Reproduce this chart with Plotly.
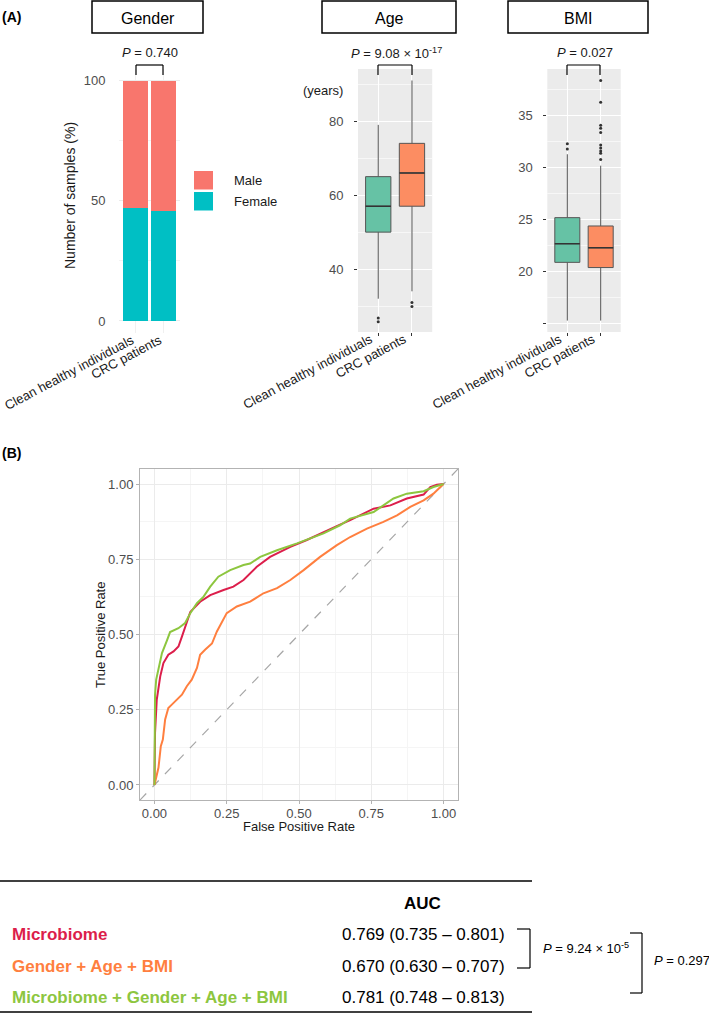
import plotly.graph_objects as go

W, H = 709, 1013
FONT = "Liberation Sans, Arial, sans-serif"

groups = ["Clean healthy individuals", "CRC patients"]
female_pct = [47.1, 45.7]
male_pct = [52.9, 54.3]

# age box stats (years)
age_q1 = [50, 57]
age_med = [57, 66]
age_q3 = [65, 74]
age_lo = [32, 34]
age_hi = [79, 91]
age_out_x = [0, 0, 1, 1]
age_out_y = [26.8, 25.8, 31.0, 29.9]

# bmi box stats
bmi_q1 = [20.9, 20.4]
bmi_med = [22.7, 22.3]
bmi_q3 = [25.2, 24.4]
bmi_lo = [15.3, 15.3]
bmi_hi = [31.3, 30.2]
bmi_out_x = [0, 0, 1, 1, 1, 1, 1, 1, 1, 1, 1, 1]
bmi_out_y = [32.3, 31.8, 38.4, 36.3, 34.1, 33.8, 33.4, 32.2, 31.9, 31.6, 31.4, 30.8]

p_gender = "<i>P</i> = 0.740"
p_age = "<i>P</i> = 9.08 × 10<sup>-17</sup>"
p_bmi = "<i>P</i> = 0.027"

# ROC curves
fpr_micro = [0, 0.0, 0.002, 0.008, 0.02, 0.031, 0.048, 0.066, 0.083, 0.095, 0.112, 0.124, 0.158,
             0.193, 0.239, 0.273, 0.308, 0.354, 0.4, 0.47, 0.527, 0.585, 0.642, 0.677, 0.758,
             0.816, 0.873, 0.931, 0.954, 0.977, 1.0]
tpr_micro = [0, 0.10, 0.173, 0.284, 0.361, 0.405, 0.433, 0.444, 0.46, 0.493, 0.538, 0.575, 0.609,
             0.631, 0.648, 0.659, 0.681, 0.725, 0.758, 0.791, 0.814, 0.841, 0.865, 0.88, 0.918,
             0.929, 0.952, 0.965, 0.99, 0.998, 1.0]
fpr_clin = [0, 0.002, 0.014, 0.022, 0.029, 0.037, 0.048, 0.06, 0.077, 0.095, 0.112, 0.129, 0.147,
            0.158, 0.175, 0.199, 0.216, 0.25, 0.285, 0.331, 0.377, 0.424, 0.47, 0.516, 0.573,
            0.631, 0.677, 0.735, 0.792, 0.839, 0.885, 0.931, 0.965, 0.989, 1.0]
tpr_clin = [0, 0.008, 0.058, 0.129, 0.151, 0.218, 0.256, 0.267, 0.284, 0.300, 0.328, 0.35, 0.389,
            0.433, 0.449, 0.47, 0.51, 0.571, 0.593, 0.609, 0.637, 0.654, 0.681, 0.714, 0.758,
            0.797, 0.824, 0.852, 0.874, 0.896, 0.924, 0.946, 0.968, 0.99, 1.0]
fpr_all = [0, 0.0, 0.002, 0.006, 0.014, 0.026, 0.043, 0.054, 0.083, 0.106, 0.124, 0.147, 0.170,
           0.193, 0.221, 0.262, 0.308, 0.331, 0.366, 0.424, 0.493, 0.585, 0.642, 0.677, 0.758,
           0.827, 0.873, 0.931, 0.965, 1.0]
tpr_all = [0, 0.20, 0.30, 0.35, 0.383, 0.438, 0.48, 0.508, 0.521, 0.538, 0.571, 0.604, 0.626,
           0.659, 0.692, 0.714, 0.731, 0.736, 0.758, 0.780, 0.803, 0.836, 0.863, 0.885, 0.907,
           0.952, 0.968, 0.976, 0.99, 1.0]

models = ["Microbiome", "Gender + Age + BMI", "Microbiome + Gender + Age + BMI"]
auc = ["0.769", "0.670", "0.781"]
ci_lo = ["0.735", "0.630", "0.748"]
ci_hi = ["0.801", "0.707", "0.813"]
model_colors = ["#DC1E4B", "#FF7F3F", "#8DC63F"]
p_tbl_1 = "<i>P</i> = 9.24 × 10<sup>-5</sup>"
p_tbl_2 = "<i>P</i> = 0.297"

c_male, c_female = "#F8766D", "#00BFC4"
c_h, c_c = "#66C2A5", "#FC8D62"


def px(x):
    return x / W


def py(y):
    return 1 - y / H


fig = go.Figure()

# ---- gender bars
fig.add_trace(go.Bar(x=[0, 1], y=female_pct, width=0.9, marker=dict(color=c_female, line_width=0),
                     xaxis="x", yaxis="y", showlegend=False))
fig.add_trace(go.Bar(x=[0, 1], y=male_pct, width=0.9, marker=dict(color=c_male, line_width=0),
                     xaxis="x", yaxis="y", showlegend=False))

# ---- age / bmi boxes
def add_boxes(q1, med, q3, lo, hi, ox, oy, xa, ya):
    for i, col in enumerate([c_h, c_c]):
        fig.add_trace(go.Box(x=[i], q1=[q1[i]], median=[med[i]], q3=[q3[i]],
                             lowerfence=[lo[i]], upperfence=[hi[i]], width=0.75,
                             fillcolor=col, line=dict(color="#555555", width=1),
                             whiskerwidth=0, boxpoints=False, xaxis=xa, yaxis=ya,
                             showlegend=False))
        # darker median bar like ggplot
        fig.add_trace(go.Scatter(x=[i - 0.375, i + 0.375], y=[med[i], med[i]], mode="lines",
                                 line=dict(color="#333333", width=1.5), xaxis=xa, yaxis=ya,
                                 showlegend=False, hoverinfo="skip"))
    fig.add_trace(go.Scatter(x=ox, y=oy, mode="markers", marker=dict(size=3, color="#333333"),
                             xaxis=xa, yaxis=ya, showlegend=False))


add_boxes(age_q1, age_med, age_q3, age_lo, age_hi, age_out_x, age_out_y, "x2", "y2")
add_boxes(bmi_q1, bmi_med, bmi_q3, bmi_lo, bmi_hi, bmi_out_x, bmi_out_y, "x3", "y3")

# ---- ROC
roc_rng = [-0.05, 1.05]
fig.add_trace(go.Scatter(x=roc_rng, y=roc_rng, mode="lines",
                         line=dict(color="#A6A6A6", width=1.2, dash="dash"),
                         xaxis="x4", yaxis="y4", showlegend=False))
for f, t, c in [(fpr_micro, tpr_micro, model_colors[0]), (fpr_clin, tpr_clin, model_colors[1]),
                (fpr_all, tpr_all, model_colors[2])]:
    fig.add_trace(go.Scatter(x=f, y=t, mode="lines", line=dict(color=c, width=2),
                             xaxis="x4", yaxis="y4", showlegend=False))

tickfont = dict(family=FONT, size=13, color="#4D4D4D")
xcat = dict(tickvals=[0, 1], ticktext=groups, range=[-0.6, 1.6], tickangle=-28,
            tickfont=dict(family=FONT, size=13, color="#1A1A1A"), ticks="outside",
            ticklen=3, zeroline=False, automargin=False, ticklabeloverflow="allow",
            ticklabelstandoff=-9)

fig.update_layout(
    width=W, height=H, margin=dict(l=0, r=0, t=0, b=0, autoexpand=False),
    paper_bgcolor="white", plot_bgcolor="white", barmode="stack", bargap=0,
    font=dict(family=FONT),
    xaxis=dict(domain=[px(119), px(180)], anchor="y", showgrid=True, gridcolor="#F0F0F0",
               tickcolor="rgba(0,0,0,0)", ticklabelshift=-4, **xcat),
    yaxis=dict(domain=[py(333), py(68.7)], anchor="x", range=[-5, 105], tickvals=[0, 50, 100],
               showgrid=True, gridcolor="#EBEBEB", zeroline=False, ticks="outside", ticklen=10,
               tickcolor="rgba(0,0,0,0)", tickfont=tickfont, automargin=False,
               minor=dict(tickvals=[25, 75], showgrid=True, gridcolor="#F3F3F3")),
    xaxis2=dict(domain=[px(358), px(432.2)], anchor="y2", showgrid=True, gridcolor="white",
                tickcolor="#333333", ticklabelshift=-8, **xcat),
    yaxis2=dict(domain=[py(332), py(69)], anchor="x2", range=[23, 94.1], tickvals=[40, 60, 80],
                showgrid=True, gridcolor="white", zeroline=False, ticks="outside", ticklen=3,
                tickcolor="#333333", tickfont=tickfont, ticklabelstandoff=8, automargin=False,
                minor=dict(tickvals=[30, 50, 70, 90], showgrid=True, gridcolor="#F7F7F7")),
    xaxis3=dict(domain=[px(547.3), px(620.7)], anchor="y3", showgrid=True, gridcolor="white",
                tickcolor="#333333", ticklabelshift=-8, **xcat),
    yaxis3=dict(domain=[py(332), py(69)], anchor="x3", range=[14.2, 39.5],
                tickvals=[15, 20, 25, 30, 35], ticktext=["", "20", "25", "30", "35"],
                showgrid=True, gridcolor="white", zeroline=False, ticks="outside", ticklen=3,
                tickcolor="#333333", tickfont=tickfont, ticklabelstandoff=8, automargin=False,
                minor=dict(tickvals=[17.5, 22.5, 27.5, 32.5, 37.5], showgrid=True,
                           gridcolor="#F7F7F7")),
    xaxis4=dict(domain=[px(140), px(458)], anchor="y4", range=roc_rng,
                tickvals=[0, 0.25, 0.5, 0.75, 1], tickformat=".2f", showgrid=True,
                gridcolor="#EBEBEB", zeroline=False, showline=True, mirror=True,
                linecolor="#B3B3B3", linewidth=1, ticks="outside", ticklen=3,
                tickcolor="#B3B3B3", tickfont=tickfont, automargin=False,
                ticklabelstandoff=-2,
                minor=dict(dtick=0.125, showgrid=True, gridcolor="#F5F5F5")),
    yaxis4=dict(domain=[py(800), py(469)], anchor="x4", range=roc_rng,
                tickvals=[0, 0.25, 0.5, 0.75, 1], tickformat=".2f", showgrid=True,
                gridcolor="#EBEBEB", zeroline=False, showline=True, mirror=True,
                linecolor="#B3B3B3", linewidth=1, ticks="outside", ticklen=3,
                tickcolor="#B3B3B3", tickfont=tickfont, automargin=False,
                minor=dict(dtick=0.125, showgrid=True, gridcolor="#F5F5F5")),
)

# grey panels for age and bmi
for x0, x1 in [(358, 432.2), (547.3, 620.7)]:
    fig.add_shape(type="rect", xref="paper", yref="paper", x0=px(x0), x1=px(x1),
                  y0=py(332), y1=py(69), fillcolor="#EBEBEB", line_width=0, layer="below")

shapes = []
ann = []


def text(x, y, s, size=13, color="#1A1A1A", xa="center", ya="middle", angle=0):
    ann.append(dict(x=px(x), y=py(y), xref="paper", yref="paper", text=s, showarrow=False,
                    xanchor=xa, yanchor=ya, textangle=angle,
                    font=dict(family=FONT, size=size, color=color)))


def line(x0, y0, x1, y1, w=1.2, color="black"):
    shapes.append(dict(type="line", xref="paper", yref="paper", x0=px(x0), y0=py(y0),
                       x1=px(x1), y1=py(y1), line=dict(color=color, width=w)))


def bracket_down(x0, x1, top, bot):
    line(x0, bot, x0, top)
    line(x0, top, x1, top)
    line(x1, top, x1, bot)


def bracket_right(x, top, bot, arm):
    line(x - arm, top, x, top)
    line(x, top, x, bot)
    line(x - arm, bot, x, bot)


# facet title boxes
for (x0, x1), lab in zip([(92, 203), (322, 456), (508, 648)], ["Gender", "Age", "BMI"]):
    shapes.append(dict(type="rect", xref="paper", yref="paper", x0=px(x0), x1=px(x1),
                       y0=py(33), y1=py(1), line=dict(color="black", width=1.5)))
    text((x0 + x1) / 2, 18, lab, size=16, color="black")

text(0, 17, "<b>(A)</b>", size=14, color="black", xa="left")
text(0, 453, "<b>(B)</b>", size=14, color="black", xa="left")

# p-value brackets
text(150, 53, p_gender)
bracket_down(136, 163, 65, 75)
text(396, 53, p_age)
bracket_down(378, 412, 65, 75)
text(584.5, 53, p_bmi)
bracket_down(567, 600, 65, 75)

text(70, 196, "Number of samples (%)", size=14, angle=-90)
text(323, 90, "(years)", size=13)

# gender legend
for y0, col, lab in [(171, c_male, "Male"), (192, c_female, "Female")]:
    shapes.append(dict(type="rect", xref="paper", yref="paper", x0=px(194), x1=px(213),
                       y0=py(y0 + 18.5), y1=py(y0), fillcolor=col, line_width=0))
    text(232, y0 + 9.5, lab, size=13, xa="left")

# ROC axis titles
text(299, 826, "False Positive Rate", size=13)
text(100, 635, "True Positive Rate", size=13, angle=-90)

# table
line(0, 881, 532, 881, w=1.5)
line(0, 1012, 532, 1012, w=1.5)
text(422, 903, "<b>AUC</b>", size=17, color="black")
for i, yy in enumerate([934, 966, 997]):
    text(10, yy, "<b>%s</b>" % models[i], size=17, color=model_colors[i], xa="left")
    text(340, yy, "%s (%s – %s)" % (auc[i], ci_lo[i], ci_hi[i]), size=17, color="black",
         xa="left")
bracket_right(530, 929, 968, 13)
text(541, 948, p_tbl_1, size=13, color="black", xa="left")
bracket_right(642, 933, 993, 12)
text(652, 960, p_tbl_2, size=13, color="black", xa="left")

fig.update_layout(shapes=list(fig.layout.shapes) + shapes, annotations=ann)
fig.write_html("out.html", config={"displayModeBar": False},
               post_script="document.body.style.margin='0px';")
